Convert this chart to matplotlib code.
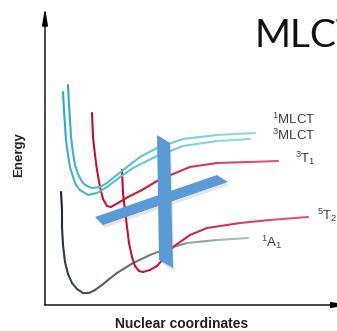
"""Potential energy curves of an Fe(II) complex along the nuclear coordinate."""

import matplotlib

matplotlib.use("Agg")
import matplotlib.pyplot as plt
import numpy as np
from matplotlib.collections import LineCollection
from matplotlib.colors import LinearSegmentedColormap
from matplotlib.patches import Polygon

plt.rcParams["font.family"] = ["Liberation Sans", "DejaVu Sans"]
plt.rcParams["mathtext.default"] = "regular"

# nuclear coordinate / energy pairs (arbitrary units) for each state
a1_x = [1.6, 1.7, 1.7, 1.8, 2.0, 2.3, 2.7, 3.2, 3.8, 4.4, 5.0, 5.7, 6.3, 7.2, 8.8, 10.5, 11.8, 14.2, 17.2, 20.3]
a1_y = [11.3, 9.5, 7.8, 6.0, 4.3, 3.1, 2.2, 1.6, 1.2, 1.2, 1.5, 2.0, 2.5, 3.2, 4.2, 5.0, 5.5, 6.2, 6.5, 6.7]

t2_x = [7.7, 7.8, 8.0, 8.2, 8.4, 8.7, 9.0, 9.4, 9.8, 10.5, 11.2, 11.9, 12.8, 14.5, 16.2, 19.5, 22.5, 26.3]
t2_y = [13.5, 11.2, 9.5, 7.8, 6.2, 4.8, 3.9, 3.4, 3.3, 3.5, 3.9, 4.7, 5.8, 7.0, 7.7, 8.2, 8.5, 8.8]

t1_x = [4.7, 4.8, 5.0, 5.2, 5.5, 5.8, 6.2, 6.6, 7.3, 8.3, 9.7, 11.2, 12.8, 14.5, 17.2, 20.5, 23.3]
t1_y = [19.2, 16.8, 15.0, 13.5, 11.8, 10.6, 9.9, 9.8, 10.2, 10.8, 11.5, 12.4, 13.1, 13.8, 14.2, 14.3, 14.4]

mlct1_x = [2.3, 2.4, 2.5, 2.6, 2.8, 3.0, 3.3, 3.6, 4.0, 4.7, 5.5, 6.2, 6.8, 8.2, 9.5, 11.2, 13.8, 17.2, 21.0]
mlct1_y = [22.0, 20.0, 18.5, 16.8, 15.2, 14.0, 13.1, 12.5, 12.0, 11.7, 11.8, 12.2, 12.7, 13.8, 14.8, 15.7, 16.6, 17.0, 17.2]

mlct3_x = [1.8, 1.9, 2.0, 2.1, 2.3, 2.5, 2.8, 3.1, 3.5, 4.3, 5.2, 6.2, 7.5, 8.8, 11.2, 13.8, 17.2, 20.5]
mlct3_y = [21.3, 19.5, 18.0, 16.5, 15.0, 13.8, 12.8, 12.0, 11.5, 11.0, 11.2, 11.8, 12.8, 13.7, 14.9, 15.9, 16.4, 16.6]

state_labels = ["$^{1}$MLCT", "$^{3}$MLCT", "$^{3}$T$_{1}$", "$^{5}$T$_{2}$", "$^{1}$A$_{1}$"]
label_x = [22.7, 22.7, 25.0, 27.2, 21.6]
label_y = [18.1, 16.5, 14.2, 8.5, 5.8]

# crossing planes marking the transition
plane_v_x = [11.2, 12.5, 12.8, 11.4]
plane_v_y = [17.0, 16.2, 3.7, 4.5]
plane_h_x = [5.0, 17.2, 18.3, 5.8]
plane_h_y = [8.8, 13.0, 12.3, 8.0]

CYAN = ["#2aa6c2", "#55bfd0", "#9adcdf"]
RED = ["#c10a2b", "#c81a3c", "#d9607d"]
GREY = ["#16202b", "#3b4751", "#76848a", "#b3c4c2"]
PLANE = "#5b9bd5"


def gradient_line(ax, x, y, colors, lw=1.5, z=2):
    x = np.asarray(x, float)
    y = np.asarray(y, float)
    pts = np.column_stack([x, y])
    segs = np.stack([pts[:-1], pts[1:]], axis=1)
    s = np.concatenate([[0], np.cumsum(np.hypot(np.diff(x), np.diff(y)))])
    t = (s[:-1] + s[1:]) / 2 / s[-1]
    cmap = LinearSegmentedColormap.from_list("grad", colors)
    lc = LineCollection(segs, colors=cmap(t), linewidths=lw,
                        capstyle="round", joinstyle="round", zorder=z)
    ax.add_collection(lc)


fig = plt.figure(figsize=(3.37, 3.31), dpi=100)
ax = fig.add_axes([45 / 337, 26 / 331, 292 / 337, 297 / 331])
ax.set_xlim(0, 29.2)
ax.set_ylim(0, 29.7)
ax.axis("off")

# axes drawn as arrows
arrow = dict(arrowstyle="-|>,head_length=1.0,head_width=0.17", color="black",
             lw=1.0, mutation_scale=10, shrinkA=0, shrinkB=0)
ax.annotate("", xy=(0, 1), xytext=(0, 0), xycoords="axes fraction", arrowprops=arrow)
ax.annotate("", xy=(1.04, 0), xytext=(0, 0), xycoords="axes fraction", arrowprops=arrow,
            annotation_clip=False)

gradient_line(ax, a1_x, a1_y, GREY)
gradient_line(ax, t2_x, t2_y, RED)
gradient_line(ax, t1_x, t1_y, RED)
gradient_line(ax, mlct3_x, mlct3_y, CYAN)
gradient_line(ax, mlct1_x, mlct1_y, CYAN)

for px, py in [(plane_v_x, plane_v_y), (plane_h_x, plane_h_y)]:
    pts = np.column_stack([px, py])
    # soft drop shadow under each plane
    ax.add_patch(Polygon(pts + [0.15, -0.3], closed=True, facecolor="#8a8a8a",
                         alpha=0.22, edgecolor="none", zorder=4))
    ax.add_patch(Polygon(pts, closed=True, facecolor=PLANE,
                         edgecolor="none", zorder=5))

for txt, lx, ly in zip(state_labels, label_x, label_y):
    ax.text(lx, ly, txt, fontsize=9.5, color="#3c3c3c", ha="left", va="baseline",
            clip_on=False)

ax.text(21.0, 25.8, "MLCT", fontsize=28, family=["Lato", "DejaVu Sans"],
        color="#111111", ha="left", va="baseline", clip_on=False)

fig.text(19 / 337, 1 - 155 / 331, "Energy", rotation=90, fontsize=9.5,
         fontweight="bold", color="#222222", ha="center", va="center")
fig.text(182 / 337, 1 - 323.5 / 331, "Nuclear coordinates", fontsize=10,
         fontweight="bold", color="#222222", ha="center", va="center")

fig.savefig("out.png", dpi=100)
